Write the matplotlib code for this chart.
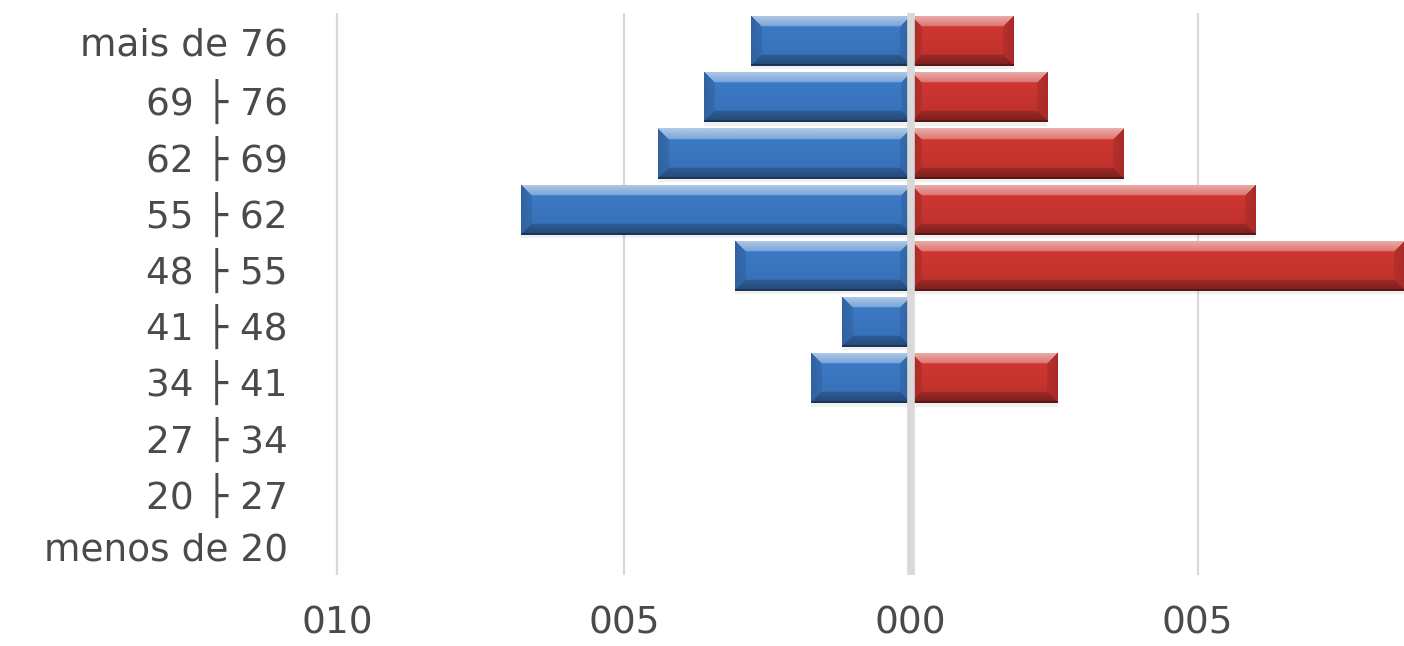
import numpy as np
import matplotlib.pyplot as plt
from matplotlib.colors import to_rgb

# age classes, top to bottom
faixas = ['mais de 76', '69 ├ 76', '62 ├ 69', '55 ├ 62', '48 ├ 55',
          '41 ├ 48', '34 ├ 41', '27 ├ 34', '20 ├ 27', 'menos de 20']
# left side (blue) and right side (red)
esquerda = [2.78, 3.61, 4.40, 6.80, 3.06, 1.19, 1.74, 0.0, 0.0, 0.0]
direita = [1.79, 2.38, 3.70, 6.00, 8.60, 0.0, 2.55, 0.0, 0.0, 0.0]
xticks = [-10, -5, 0, 5]
xlabels = ['010', '005', '000', '005']

W, H = 1404, 646
PX_UNIT = 57.4          # pixels per x unit in the reference
ROW_PX = 56.2           # pixels per category row
BAR_H = 0.89


def bevel_image(face, length_px, height_px, bevel=11):
    """Excel-like bevelled bar texture"""
    face = np.array(to_rgb(face))
    light = face + (1 - face) * 0.6
    dark = face * 0.6
    side = face * 0.82
    h = max(int(height_px), 2)
    w = max(int(length_px), 2)
    ii, jj = np.mgrid[0:h, 0:w]
    d = np.stack([ii, h - 1 - ii, jj, w - 1 - jj])
    near = np.argmin(d, axis=0)
    dmin = np.min(d, axis=0)
    t = ii / (h - 1)
    img = face[None, None, :] * (1.04 - 0.12 * t[..., None])
    for k, c in enumerate([light, dark, side, side]):
        m = (near == k) & (dmin < bevel)
        f = (1 - dmin[m] / bevel)[:, None] * 0.5 + 0.5
        img[m] = img[m] * (1 - f) + c * f
    img[-2:, :] = face * 0.45
    return np.clip(img, 0, 1)


fig = plt.figure(figsize=(W / 100, H / 100), dpi=100)
ax_left, ax_bottom, ax_top = 310, 71, 13
ax = fig.add_axes([ax_left / W, ax_bottom / H, 1 - ax_left / W, (H - ax_bottom - ax_top) / H])

y = np.arange(len(faixas))
neg = -np.array(esquerda)
pos = np.array(direita)

for vals, col in ((neg, '#3b78c3'), (pos, '#cc3530')):
    # soft shadow under the bars
    ax.barh(y + 0.06, vals, height=BAR_H, color='black', alpha=0.06, zorder=2, linewidth=0)
    bars = ax.barh(y, vals, height=BAR_H, color=col, zorder=3, linewidth=0)
    for b, v, yy in zip(bars, vals, y):
        if v == 0:
            continue
        x0, x1 = min(0, v), max(0, v)
        img = bevel_image(col, abs(v) * PX_UNIT, BAR_H * ROW_PX)
        im = ax.imshow(img, extent=(x0, x1, yy + BAR_H / 2, yy - BAR_H / 2),
                       aspect='auto', interpolation='bilinear', zorder=4)
        im.set_clip_path(b)

ax.set_xlim(-10 - (337 - ax_left) / PX_UNIT, (W - 910.5) / PX_UNIT)
ax.set_ylim(len(faixas) - 0.5, -0.5)

for xv in xticks:
    if xv == 0:
        ax.axvline(0, color='#d9d9d9', lw=5.5, zorder=5)
    else:
        ax.axvline(xv, color='#d9d9d9', lw=1.6, zorder=1)

ax.set_xticks(xticks)
ax.set_xticklabels(xlabels)
ax.set_yticks(y)
ax.set_yticklabels(faixas)
ax.tick_params(axis='both', length=0, colors='#4a4a4a')
ax.tick_params(axis='x', pad=22, labelsize=27)
ax.tick_params(axis='y', pad=16, labelsize=27)
for s in ax.spines.values():
    s.set_visible(False)

fig.savefig('out.png', dpi=100)
